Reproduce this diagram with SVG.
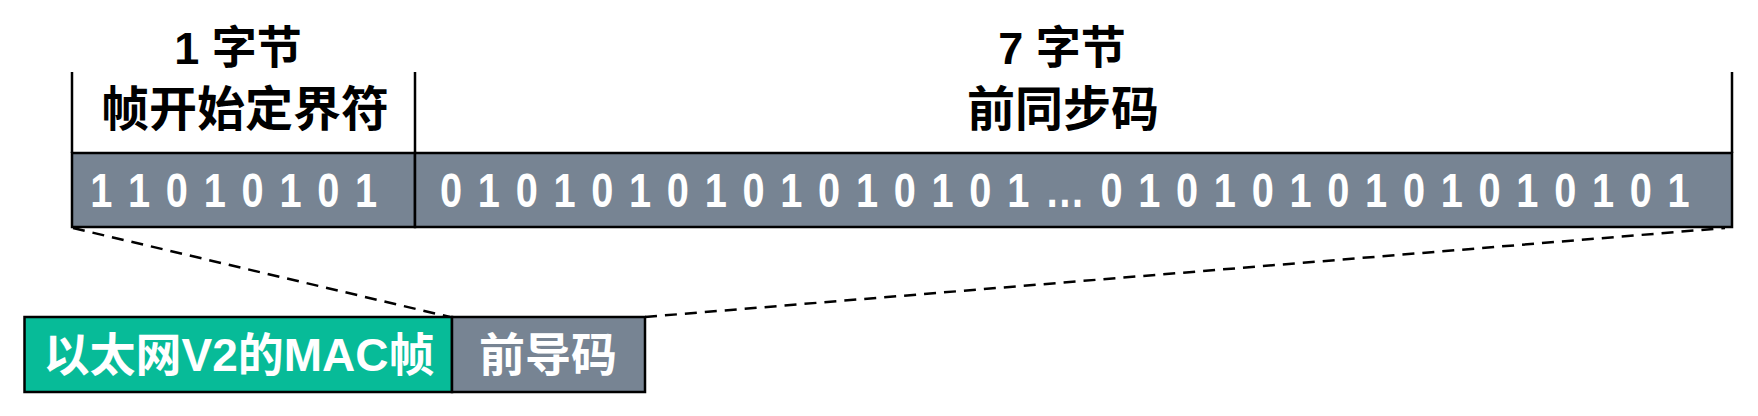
<svg xmlns="http://www.w3.org/2000/svg" width="1758" height="416" viewBox="0 0 1758 416">
<style>
text{font-family:"Liberation Sans","Noto Sans CJK SC",sans-serif;font-weight:bold;text-anchor:middle}
.title{fill:#000}
.bits{fill:#fff;font-size:48.5px;text-anchor:start}
.lbl{fill:#fff;font-size:46px}
.box{stroke:#000;stroke-width:2.5}
.gray{fill:#778493}
.green{fill:#07BB98}
.dash{fill:none;stroke:#000;stroke-width:2.5;stroke-dasharray:12 8}
.line{stroke:#000;stroke-width:2.5;fill:none}
</style>
<rect width="1758" height="416" fill="#fff"/>
<g id="connectors">
<line class="dash" x1="73" y1="228" x2="450" y2="317"/>
<line class="dash" x1="645" y1="317" x2="1725" y2="228"/>
</g>
<g id="sfd">
<path class="line" d="M72 72V153"/>
<rect class="box gray" x="72" y="153" width="343" height="74"/>
<text class="title" x="238" y="64" font-size="45">1 字节</text>
<text class="title" x="245" y="126" font-size="48">帧开始定界符</text>
<text class="bits" transform="scale(0.82,1)" x="110" y="207.5" textLength="350" lengthAdjust="spacing">1 1 0 1 0 1 0 1</text>
</g>
<g id="preamble">
<path class="line" d="M415 72V153M1732 72V153"/>
<rect class="box gray" x="415" y="153" width="1317" height="74"/>
<text class="title" x="1062" y="64" font-size="45">7 字节</text>
<text class="title" x="1063" y="126" font-size="48">前同步码</text>
<text class="bits" transform="scale(0.82,1)" x="536.6" y="207.5" textLength="1524" lengthAdjust="spacing">0 1 0 1 0 1 0 1 0 1 0 1 0 1 0 1 … 0 1 0 1 0 1 0 1 0 1 0 1 0 1 0 1</text>
</g>
<g id="mac-frame">
<rect class="box green" x="24.5" y="317" width="427.5" height="75"/>
<text class="lbl" x="239" y="371">以太网V2的MAC帧</text>
</g>
<g id="preamble-small">
<rect class="box gray" x="452" y="317" width="193" height="75"/>
<text class="lbl" x="548" y="371">前导码</text>
</g>
</svg>
